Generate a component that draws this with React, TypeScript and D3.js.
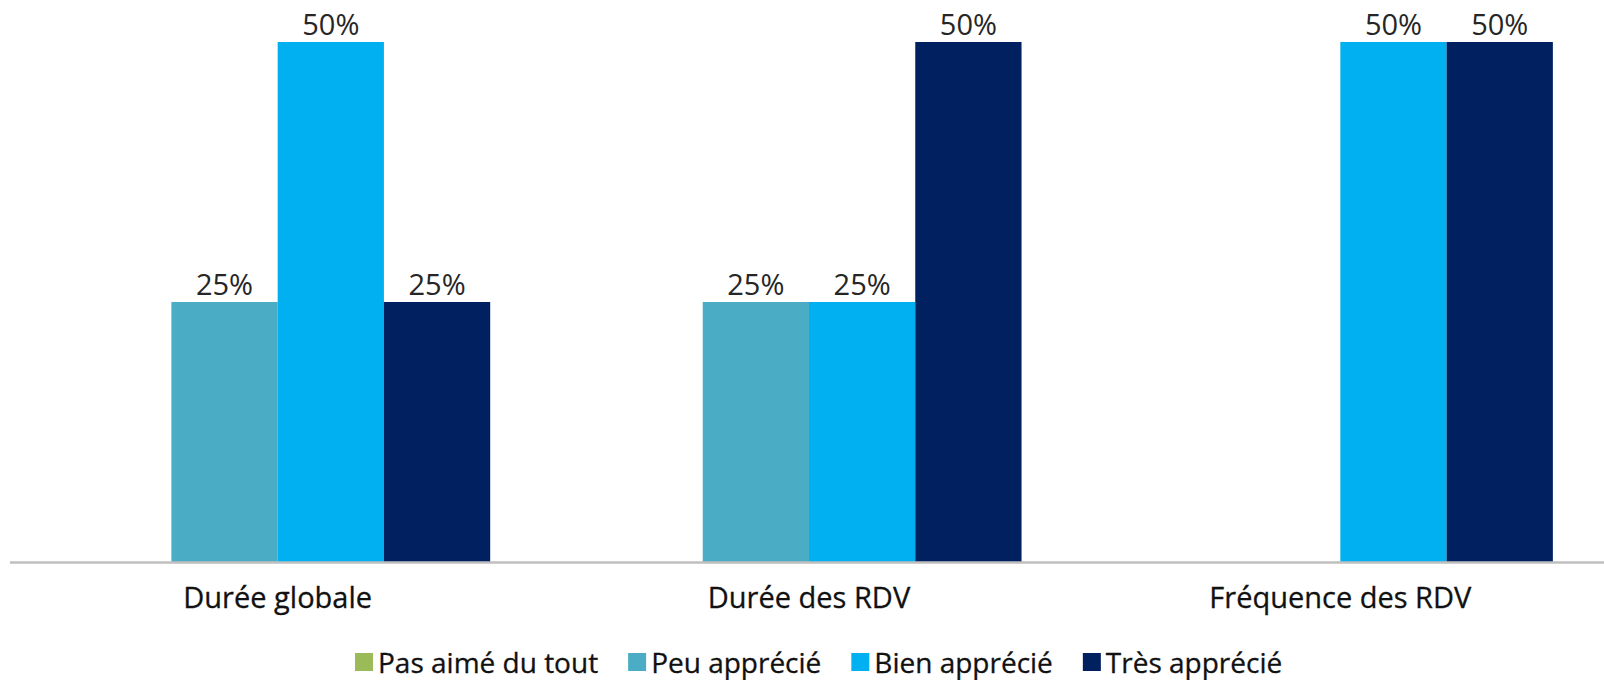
import React, { useEffect, useRef } from "react";
import * as d3 from "d3";

const categories = ["Durée globale", "Durée des RDV", "Fréquence des RDV"];
const seriesNames = ["Pas aimé du tout", "Peu apprécié", "Bien apprécié", "Très apprécié"];
const pasAime = [0, 0, 0];
const peuApprecie = [0.25, 0.25, 0];
const bienApprecie = [0.5, 0.25, 0.5];
const tresApprecie = [0.25, 0.5, 0.5];
const colors = ["#9BBB59", "#4BACC6", "#00B0F0", "#002060"];

const W = 1604;
const H = 680;
const FONT = "'Open Sans', sans-serif";

export default function App() {
  const ref = useRef<SVGSVGElement>(null);

  useEffect(() => {
    const svg = d3.select(ref.current);
    svg.selectAll("*").remove();
    const series = [pasAime, peuApprecie, bienApprecie, tresApprecie];

    const x0 = d3.scaleBand<string>().domain(categories).range([12, 1606]).paddingInner(0.2).paddingOuter(0.1);
    const x1 = d3.scaleBand<string>().domain(seriesNames).range([0, x0.bandwidth()]).padding(0);
    const y = d3.scaleLinear().domain([0, 0.5]).range([562, 42]);

    const data: { cat: string; s: string; v: number; i: number }[] = [];
    categories.forEach((c, ci) => {
      seriesNames.forEach((s, si) => {
        data.push({ cat: c, s, v: series[si][ci], i: si });
      });
    });

    const g = svg.append("g");
    g.selectAll("rect.bar")
      .data(data.filter((d) => d.v > 0))
      .join("rect")
      .attr("class", "bar")
      .attr("x", (d) => (x0(d.cat) as number) + (x1(d.s) as number))
      .attr("y", (d) => y(d.v))
      .attr("width", x1.bandwidth())
      .attr("height", (d) => y(0) - y(d.v))
      .attr("fill", (d) => colors[d.i]);

    g.selectAll("text.lbl")
      .data(data.filter((d) => d.v > 0))
      .join("text")
      .attr("class", "lbl")
      .attr("x", (d) => (x0(d.cat) as number) + (x1(d.s) as number) + x1.bandwidth() / 2)
      .attr("y", (d) => y(d.v) - 7)
      .attr("text-anchor", "middle")
      .attr("font-family", FONT)
      .attr("font-size", 29)
      .attr("fill", "#262626")
      .text((d) => `${Math.round(d.v * 100)}%`);

    // axis line
    svg.append("line")
      .attr("x1", 10)
      .attr("x2", W)
      .attr("y1", y(0) + 0.5)
      .attr("y2", y(0) + 0.5)
      .attr("stroke", "#BFBFBF")
      .attr("stroke-width", 2.5);

    // category labels
    svg.selectAll("text.cat")
      .data(categories)
      .join("text")
      .attr("class", "cat")
      .attr("x", (d) => (x0(d) as number) + x0.bandwidth() / 2)
      .attr("y", 608)
      .attr("text-anchor", "middle")
      .attr("font-family", FONT)
      .attr("font-size", 29)
      .attr("fill", "#111")
      .attr("stroke", "#111")
      .attr("stroke-width", 0.3)
      .text((d) => d);

    // legend
    const leg = svg.append("g");
    let cx = 355;
    seriesNames.forEach((s, i) => {
      leg.append("rect")
        .attr("x", cx)
        .attr("y", 653)
        .attr("width", 18)
        .attr("height", 18)
        .attr("fill", colors[i]);
      const t = leg.append("text")
        .attr("x", cx + 23)
        .attr("y", 673)
        .attr("font-family", FONT)
        .attr("font-size", 28)
        .attr("fill", "#111")
        .attr("stroke", "#111")
        .attr("stroke-width", 0.3)
        .text(s);
      const w = (t.node() as SVGTextElement).getComputedTextLength();
      cx = cx + 23 + w + 30;
    });
  }, []);

  return (
    <svg
      ref={ref}
      width={W}
      height={H}
      style={{ position: "absolute", left: 0, top: 0, background: "#fff" }}
    />
  );
}
